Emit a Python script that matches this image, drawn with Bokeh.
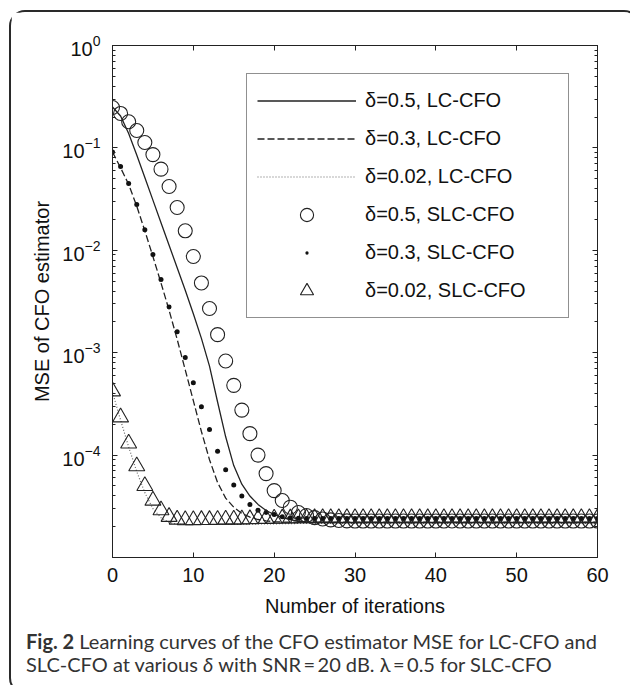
from bokeh.plotting import figure
from bokeh.models import Range1d, FixedTicker, LogAxis, LinearAxis, Div, CustomJSTickFormatter
from bokeh.layouts import column
from bokeh.embed import file_html
from bokeh.resources import INLINE

iterations = list(range(61))

# delta = 0.5, LC-CFO (solid line)
mse_lc_d05 = [
    0.251, 0.205, 0.138, 0.0851, 0.0513, 0.0309, 0.0186, 0.0112, 0.00676, 0.00407,
    0.0024, 0.00138, 7.4e-4, 3.3e-4, 1.51e-4, 7.9e-5, 5.2e-5, 3.98e-5, 3.3e-5, 2.88e-5,
    2.63e-5, 2.45e-5, 2.34e-5, 2.26e-5, 2.23e-5, 2.21e-5, 2.2e-5, 2.2e-5, 2.2e-5, 2.2e-5,
    2.2e-5, 2.2e-5, 2.2e-5, 2.2e-5, 2.2e-5, 2.2e-5, 2.2e-5, 2.2e-5, 2.2e-5, 2.2e-5,
    2.2e-5, 2.2e-5, 2.2e-5, 2.2e-5, 2.2e-5, 2.2e-5, 2.2e-5, 2.2e-5, 2.2e-5, 2.2e-5,
    2.2e-5, 2.2e-5, 2.2e-5, 2.2e-5, 2.2e-5, 2.2e-5, 2.2e-5, 2.2e-5, 2.2e-5, 2.2e-5,
    2.2e-5,
]
# delta = 0.3, LC-CFO (dashed line)
mse_lc_d03 = [
    0.091, 0.064, 0.044, 0.027, 0.0155, 0.0087, 0.0048, 0.0026, 0.00135, 6.8e-4,
    3.4e-4, 1.7e-4, 9.0e-5, 5.4e-5, 3.8e-5, 3.1e-5, 2.7e-5, 2.48e-5, 2.35e-5, 2.28e-5,
    2.24e-5, 2.22e-5, 2.22e-5, 2.22e-5, 2.22e-5, 2.22e-5, 2.22e-5, 2.22e-5, 2.22e-5, 2.22e-5,
    2.22e-5, 2.22e-5, 2.22e-5, 2.22e-5, 2.22e-5, 2.22e-5, 2.22e-5, 2.22e-5, 2.22e-5, 2.22e-5,
    2.22e-5, 2.22e-5, 2.22e-5, 2.22e-5, 2.22e-5, 2.22e-5, 2.22e-5, 2.22e-5, 2.22e-5, 2.22e-5,
    2.22e-5, 2.22e-5, 2.22e-5, 2.22e-5, 2.22e-5, 2.22e-5, 2.22e-5, 2.22e-5, 2.22e-5, 2.22e-5,
    2.22e-5,
]
# delta = 0.02, LC-CFO (dotted line)
mse_lc_d002 = [
    4.1e-4, 2.2e-4, 1.2e-4, 6.9e-5, 4.3e-5, 3.0e-5, 2.45e-5, 2.2e-5, 2.12e-5, 2.1e-5,
    2.1e-5, 2.1e-5, 2.1e-5, 2.1e-5, 2.1e-5, 2.11e-5, 2.11e-5, 2.12e-5, 2.12e-5, 2.13e-5,
    2.13e-5, 2.14e-5, 2.14e-5, 2.15e-5, 2.15e-5, 2.15e-5, 2.15e-5, 2.15e-5, 2.15e-5, 2.15e-5,
    2.15e-5, 2.15e-5, 2.15e-5, 2.15e-5, 2.15e-5, 2.15e-5, 2.15e-5, 2.15e-5, 2.15e-5, 2.15e-5,
    2.15e-5, 2.15e-5, 2.15e-5, 2.15e-5, 2.15e-5, 2.15e-5, 2.15e-5, 2.15e-5, 2.15e-5, 2.15e-5,
    2.15e-5, 2.15e-5, 2.15e-5, 2.15e-5, 2.15e-5, 2.15e-5, 2.15e-5, 2.15e-5, 2.15e-5, 2.15e-5,
    2.15e-5,
]
# delta = 0.5, SLC-CFO (circles)
mse_slc_d05 = [
    0.248, 0.217, 0.18, 0.148, 0.113, 0.086, 0.062, 0.042, 0.0262, 0.0155,
    0.0087, 0.0048, 0.0027, 0.0015, 8.3e-4, 4.8e-4, 2.75e-4, 1.62e-4, 1.0e-4, 6.6e-5,
    4.5e-5, 3.6e-5, 3.1e-5, 2.75e-5, 2.57e-5, 2.45e-5, 2.38e-5, 2.33e-5, 2.3e-5, 2.28e-5,
    2.27e-5, 2.27e-5, 2.27e-5, 2.27e-5, 2.27e-5, 2.27e-5, 2.27e-5, 2.27e-5, 2.27e-5, 2.27e-5,
    2.27e-5, 2.27e-5, 2.27e-5, 2.27e-5, 2.27e-5, 2.27e-5, 2.27e-5, 2.27e-5, 2.27e-5, 2.27e-5,
    2.27e-5, 2.27e-5, 2.27e-5, 2.27e-5, 2.27e-5, 2.27e-5, 2.27e-5, 2.27e-5, 2.27e-5, 2.27e-5,
    2.27e-5,
]
# delta = 0.3, SLC-CFO (dots)
mse_slc_d03 = [
    0.091, 0.066, 0.045, 0.028, 0.0159, 0.0091, 0.0052, 0.0028, 0.0016, 9.0e-4,
    5.1e-4, 2.97e-4, 1.78e-4, 1.09e-4, 7.2e-5, 5.1e-5, 3.98e-5, 3.3e-5, 2.9e-5, 2.75e-5,
    2.63e-5, 2.5e-5, 2.45e-5, 2.42e-5, 2.4e-5, 2.4e-5, 2.4e-5, 2.4e-5, 2.4e-5, 2.4e-5,
    2.4e-5, 2.4e-5, 2.4e-5, 2.4e-5, 2.4e-5, 2.4e-5, 2.4e-5, 2.4e-5, 2.4e-5, 2.4e-5,
    2.4e-5, 2.4e-5, 2.4e-5, 2.4e-5, 2.4e-5, 2.4e-5, 2.4e-5, 2.4e-5, 2.4e-5, 2.4e-5,
    2.4e-5, 2.4e-5, 2.4e-5, 2.4e-5, 2.4e-5, 2.4e-5, 2.4e-5, 2.4e-5, 2.4e-5, 2.4e-5,
    2.4e-5,
]
# delta = 0.02, SLC-CFO (triangles)
mse_slc_d002 = [
    4.2e-4, 2.34e-4, 1.3e-4, 7.8e-5, 5.0e-5, 3.6e-5, 2.9e-5, 2.5e-5, 2.35e-5, 2.32e-5,
    2.32e-5, 2.33e-5, 2.33e-5, 2.34e-5, 2.35e-5, 2.35e-5, 2.36e-5, 2.37e-5, 2.38e-5, 2.39e-5,
    2.4e-5, 2.41e-5, 2.41e-5, 2.42e-5, 2.42e-5, 2.43e-5, 2.43e-5, 2.43e-5, 2.43e-5, 2.43e-5,
    2.43e-5, 2.43e-5, 2.43e-5, 2.43e-5, 2.43e-5, 2.43e-5, 2.43e-5, 2.43e-5, 2.43e-5, 2.43e-5,
    2.43e-5, 2.43e-5, 2.43e-5, 2.43e-5, 2.43e-5, 2.43e-5, 2.43e-5, 2.43e-5, 2.43e-5, 2.43e-5,
    2.43e-5, 2.43e-5, 2.43e-5, 2.43e-5, 2.43e-5, 2.43e-5, 2.43e-5, 2.43e-5, 2.43e-5, 2.43e-5,
    2.43e-5,
]

x_ticks = [0, 10, 20, 30, 40, 50, 60]
y_ticks = [1e-4, 1e-3, 1e-2, 1e-1, 1.0]
y_minor = [m * 10.0 ** e for e in range(-5, 0) for m in range(2, 10)]

labels = ["δ=0.5, LC-CFO", "δ=0.3, LC-CFO", "δ=0.02, LC-CFO",
          "δ=0.5, SLC-CFO", "δ=0.3, SLC-CFO", "δ=0.02, SLC-CFO"]

FONT = "Liberation Sans"
INK = "#222222"

p = figure(width=617, height=611, x_range=Range1d(0, 60), y_range=Range1d(1e-5, 1.0),
           y_axis_type="log", output_backend="svg", toolbar_location=None,
           min_border_left=101, min_border_right=31, min_border_top=33, min_border_bottom=66,
           background_fill_color="white", border_fill_color="white")
p.outline_line_color = INK
p.xgrid.visible = False
p.ygrid.visible = False

p.line(iterations, mse_lc_d05, line_color=INK, line_width=1.3, legend_label=labels[0])
p.line(iterations, mse_lc_d03, line_color=INK, line_width=1.3, line_dash="7 3", legend_label=labels[1])
p.line(iterations, mse_lc_d002, line_color="#666666", line_width=1.2, line_dash="1 2", legend_label=labels[2])
p.scatter(iterations, mse_slc_d05, marker="circle", size=14, fill_color=None, line_color=INK,
          line_width=1.1, legend_label=labels[3])
p.scatter(iterations, mse_slc_d03, marker="dot", size=20, line_color="#111111", legend_label=labels[4])
p.scatter(iterations, mse_slc_d002, marker="triangle", size=16, fill_color=None, line_color=INK,
          line_width=1.1, legend_label=labels[5])

def style_axis(ax):
    ax.axis_line_color = INK
    ax.major_tick_line_color = INK
    ax.minor_tick_line_color = INK
    ax.major_tick_in = 5
    ax.major_tick_out = 0
    ax.minor_tick_in = 3
    ax.minor_tick_out = 0
    ax.major_label_text_font = FONT
    ax.major_label_text_font_size = "20px"
    ax.major_label_text_color = "#111111"
    ax.axis_label_text_font = FONT
    ax.axis_label_text_font_size = "20px"
    ax.axis_label_text_font_style = "normal"
    ax.axis_label_text_color = "#111111"

xa = p.xaxis[0]
xa.ticker = FixedTicker(ticks=x_ticks, minor_ticks=[])
xa.axis_label = "Number of iterations"
style_axis(xa)
xa.major_label_standoff = 10
xa.axis_label_standoff = 10

ya = p.yaxis[0]
ya.ticker = FixedTicker(ticks=y_ticks, minor_ticks=y_minor)
ya.axis_label = "MSE of CFO estimator"
style_axis(ya)
ya.major_label_standoff = 12
ya.axis_label_standoff = 6

blank = CustomJSTickFormatter(code="return ''")
top_ax = LinearAxis(ticker=FixedTicker(ticks=x_ticks, minor_ticks=[]), formatter=blank)
style_axis(top_ax)
p.add_layout(top_ax, "above")
right_ax = LogAxis(ticker=FixedTicker(ticks=y_ticks, minor_ticks=y_minor),
                   formatter=CustomJSTickFormatter(code="return ''"))
style_axis(right_ax)
p.add_layout(right_ax, "right")

lg = p.legend[0]
lg.location = "top_right"
lg.margin = 28
lg.padding = 10
lg.spacing = 5
lg.glyph_height = 33
lg.label_height = 33
lg.glyph_width = 99
lg.label_standoff = 9
lg.label_width = 193
lg.label_text_font = FONT
lg.label_text_font_size = "20px"
lg.label_text_color = "#111111"
lg.border_line_color = INK
lg.border_line_width = 1
lg.background_fill_color = "white"
lg.background_fill_alpha = 1.0

caption = Div(
    text=("<b style='font-weight:700'>Fig. 2</b> Learning curves of the CFO estimator MSE for LC-CFO and<br>"
          "SLC-CFO at various <i>δ</i> with SNR\u2009=\u200920 dB. λ\u2009=\u20090.5 for SLC-CFO"),
    width=617, height=59,
    styles={"font-family": "Lato", "font-size": "20px", "line-height": "23px", "color": "#333333",
            "padding-top": "2px", "padding-left": "3px", "text-indent": "7px", "white-space": "nowrap"},
)

layout = column(p, caption, styles={"border": "2px solid #2a2a2a", "border-radius": "16px",
                                    "margin-left": "9px", "margin-top": "10px",
                                    "background-color": "white"})

open("out.html", "w").write(file_html(layout, INLINE))
